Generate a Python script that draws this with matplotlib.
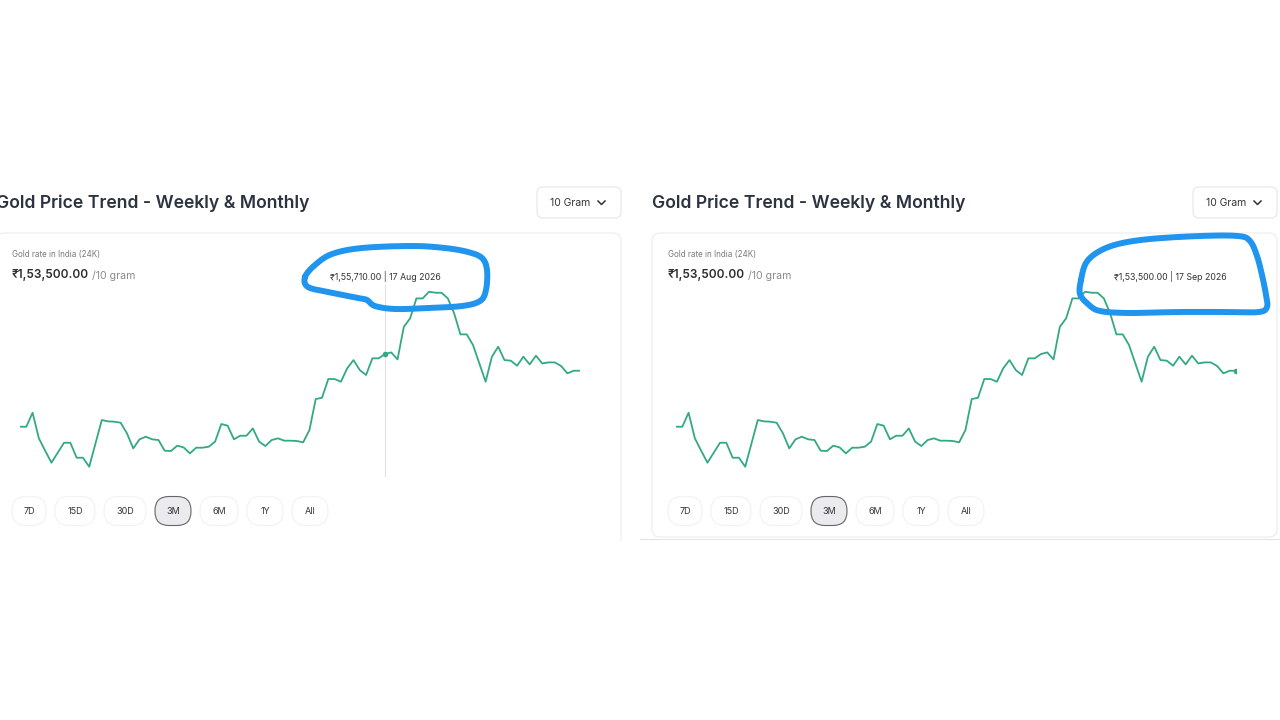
import numpy as np
import pandas as pd
import matplotlib
matplotlib.use("Agg")
import matplotlib.pyplot as plt
from matplotlib.patches import FancyBboxPatch

plt.rcParams['font.family'] = ['Inter', 'DejaVu Sans']

# gold price (INR per 10 gram), one value per day
prices = [146070, 146070, 147930, 144530, 142890, 141300, 142630, 143950, 143950, 141960,
          141960, 140770, 143860, 146960, 146780, 146740, 146600, 145190, 143200, 144400,
          144750, 144400, 144310, 142890, 142850, 143560, 143330, 142540, 143290, 143290,
          143420, 144090, 146430, 146210, 144400, 144880, 144880, 145850, 144090, 143510,
          144310, 144530, 144220, 144220, 144180, 144000, 145630, 149740, 149920, 152400,
          152400, 152040, 153810, 154910, 153590, 152930, 155140, 155140, 155710, 155930,
          155000, 159330, 160440, 163090, 163090, 163980, 163840, 163840, 163090, 161100,
          158320, 158320, 156900, 154470, 152040, 155360, 156680, 154910, 154830, 154160,
          155360, 154340, 155490, 154470, 154600, 154600, 154120, 153150, 153500, 153500]
dates = pd.date_range('2026-09-17', periods=len(prices), freq='-1D')[::-1]

title = 'Gold Price Trend - Weekly & Monthly'
unit_label = '10 Gram'
rate_label = 'Gold rate in India (24K)'
current_price = 153500
range_labels = ['7D', '15D', '30D', '3M', '6M', '1Y', 'All']
range_widths = [34, 40, 42, 36, 38, 36, 36]
selected = '3M'
hover_dates = ['2026-08-17', '2026-09-17']   # left screenshot, right screenshot

# hand drawn pen marks (pixel coords)
pen_left = [(305, 277), (315, 265), (332, 254), (362, 248), (412, 246), (445, 248), (468, 252),
            (482, 258), (487, 270), (486, 290), (480, 301), (462, 306), (428, 308), (395, 309),
            (375, 306), (367, 300), (358, 298), (328, 292), (308, 287)]
pen_right = [(1081, 280), (1086, 263), (1098, 252), (1118, 244), (1150, 239), (1200, 236),
             (1238, 236), (1250, 241), (1257, 256), (1262, 275), (1266, 295), (1267, 307),
             (1259, 312), (1230, 312), (1180, 312), (1130, 313), (1100, 311), (1088, 304),
             (1080, 294)]

W, H = 1280, 720
LINE = '#33a983'


def inr(v):
    s = str(int(round(v)))
    head, tail = s[:-3], s[-3:]
    groups = []
    while len(head) > 2:
        groups.insert(0, head[-2:])
        head = head[:-2]
    if head:
        groups.insert(0, head)
    return ','.join(groups + [tail]) + '.00'


def smooth_loop(pts, k=10):
    # closed catmull-rom curve through the pen points
    p = np.array(pts, dtype=float)
    n = len(p)
    out = []
    for i in range(n):
        p0, p1, p2, p3 = p[i - 1], p[i], p[(i + 1) % n], p[(i + 2) % n]
        for t in np.linspace(0, 1, k, endpoint=False):
            out.append(0.5 * (2 * p1 + (-p0 + p2) * t + (2 * p0 - 5 * p1 + 4 * p2 - p3) * t ** 2
                              + (-p0 + 3 * p1 - 3 * p2 + p3) * t ** 3))
    out.append(out[0])
    return np.array(out)


fig = plt.figure(figsize=(12.8, 7.2), dpi=100)
fig.patch.set_facecolor('white')
bg = fig.add_axes([0, 0, 1, 1])
bg.set_xlim(0, W)
bg.set_ylim(H, 0)
bg.axis('off')


def panel(ox, hover, card_bottom):
    bg.text(ox, 203, title, fontsize=12.7, fontweight='semibold', color='#2b3340',
            ha='left', va='center')
    # unit dropdown
    bg.add_patch(FancyBboxPatch((ox + 541, 187), 84, 31, boxstyle='round,pad=0,rounding_size=6',
                                fc='white', ec='#e6e6e6', lw=0.8))
    bg.text(ox + 554, 202.5, unit_label, fontsize=7.5, color='#333333', ha='left', va='center')
    bg.plot([ox + 602, ox + 605.5, ox + 609], [201, 204.5, 201], color='#333333', lw=1.1)
    # card
    bg.add_patch(FancyBboxPatch((ox, 233), 625, card_bottom - 233,
                                boxstyle='round,pad=0,rounding_size=8',
                                fc='white', ec='#ececec', lw=0.8))
    bg.text(ox + 16, 255, rate_label, fontsize=5.8, color='#7a7a7a', ha='left', va='center')
    bg.text(ox + 16, 275, '₹' + inr(current_price), fontsize=8.5, fontweight='semibold',
            color='#2d2d2d', ha='left', va='center')
    bg.text(ox + 96, 275.5, '/10 gram', fontsize=7.6, color='#8a8a8a', ha='left', va='center')

    # range buttons
    x = ox + 16
    for lab, w in zip(range_labels, range_widths):
        sel = lab == selected
        bg.add_patch(FancyBboxPatch((x, 496.5), w, 29, boxstyle='round,pad=0,rounding_size=14',
                                    fc='#ebebef' if sel else 'white',
                                    ec='#666666' if sel else '#f2f2f2', lw=0.8))
        bg.text(x + w / 2, 511, lab, fontsize=6.5, color='#333333', ha='center', va='center')
        x += w + 9

    # price line
    n = len(prices)
    vmin, vmax = min(prices), max(prices)
    per_px = (vmax - vmin) / 175.0
    top, bot = 285, 477
    x0, x1 = ox + 24, ox + 584
    ax = fig.add_axes([x0 / W, 1 - bot / H, (x1 - x0) / W, (bot - top) / H])
    ax.set_xlim(0, n - 1)
    ax.set_ylim(vmin - 10.3 * per_px, vmax + 6.7 * per_px)
    ax.axis('off')
    ax.patch.set_alpha(0)
    ax.axvline(hover, color='#e2e2e2', lw=0.8)
    ax.plot(range(n), prices, color=LINE, lw=1.3, solid_joinstyle='round')
    ax.plot([hover], [prices[hover]], 'o', color=LINE, ms=3)

    hx = x0 + hover / (n - 1) * (x1 - x0)
    label = '₹' + inr(prices[hover]) + ' | ' + dates[hover].strftime('%d %b %Y')
    if hx + 60 > ox + 580:
        bg.text(ox + 575, 276, label, fontsize=6.3, color='#333333', ha='right', va='center')
    else:
        bg.text(hx, 276, label, fontsize=6.3, color='#333333', ha='center', va='center')


idx = {d.strftime('%Y-%m-%d'): i for i, d in enumerate(dates)}
panel(-4, idx[hover_dates[0]], 560)
panel(652, idx[hover_dates[1]], 537)
# page edges of the screenshots
bg.add_patch(plt.Rectangle((0, 541), 640, 40, fc='white', ec='none', zorder=3))
bg.plot([640, 1280], [539, 539], color='#e4e4e4', lw=0.8, zorder=4)

top_ax = fig.add_axes([0, 0, 1, 1])
top_ax.set_xlim(0, W)
top_ax.set_ylim(H, 0)
top_ax.axis('off')
top_ax.patch.set_alpha(0)
for pen in (pen_left, pen_right):
    c = smooth_loop(pen)
    top_ax.plot(c[:, 0], c[:, 1], color='#1f95ef', lw=4.3, solid_capstyle='round',
                solid_joinstyle='round')

fig.savefig('out.png', dpi=100, facecolor='white')
